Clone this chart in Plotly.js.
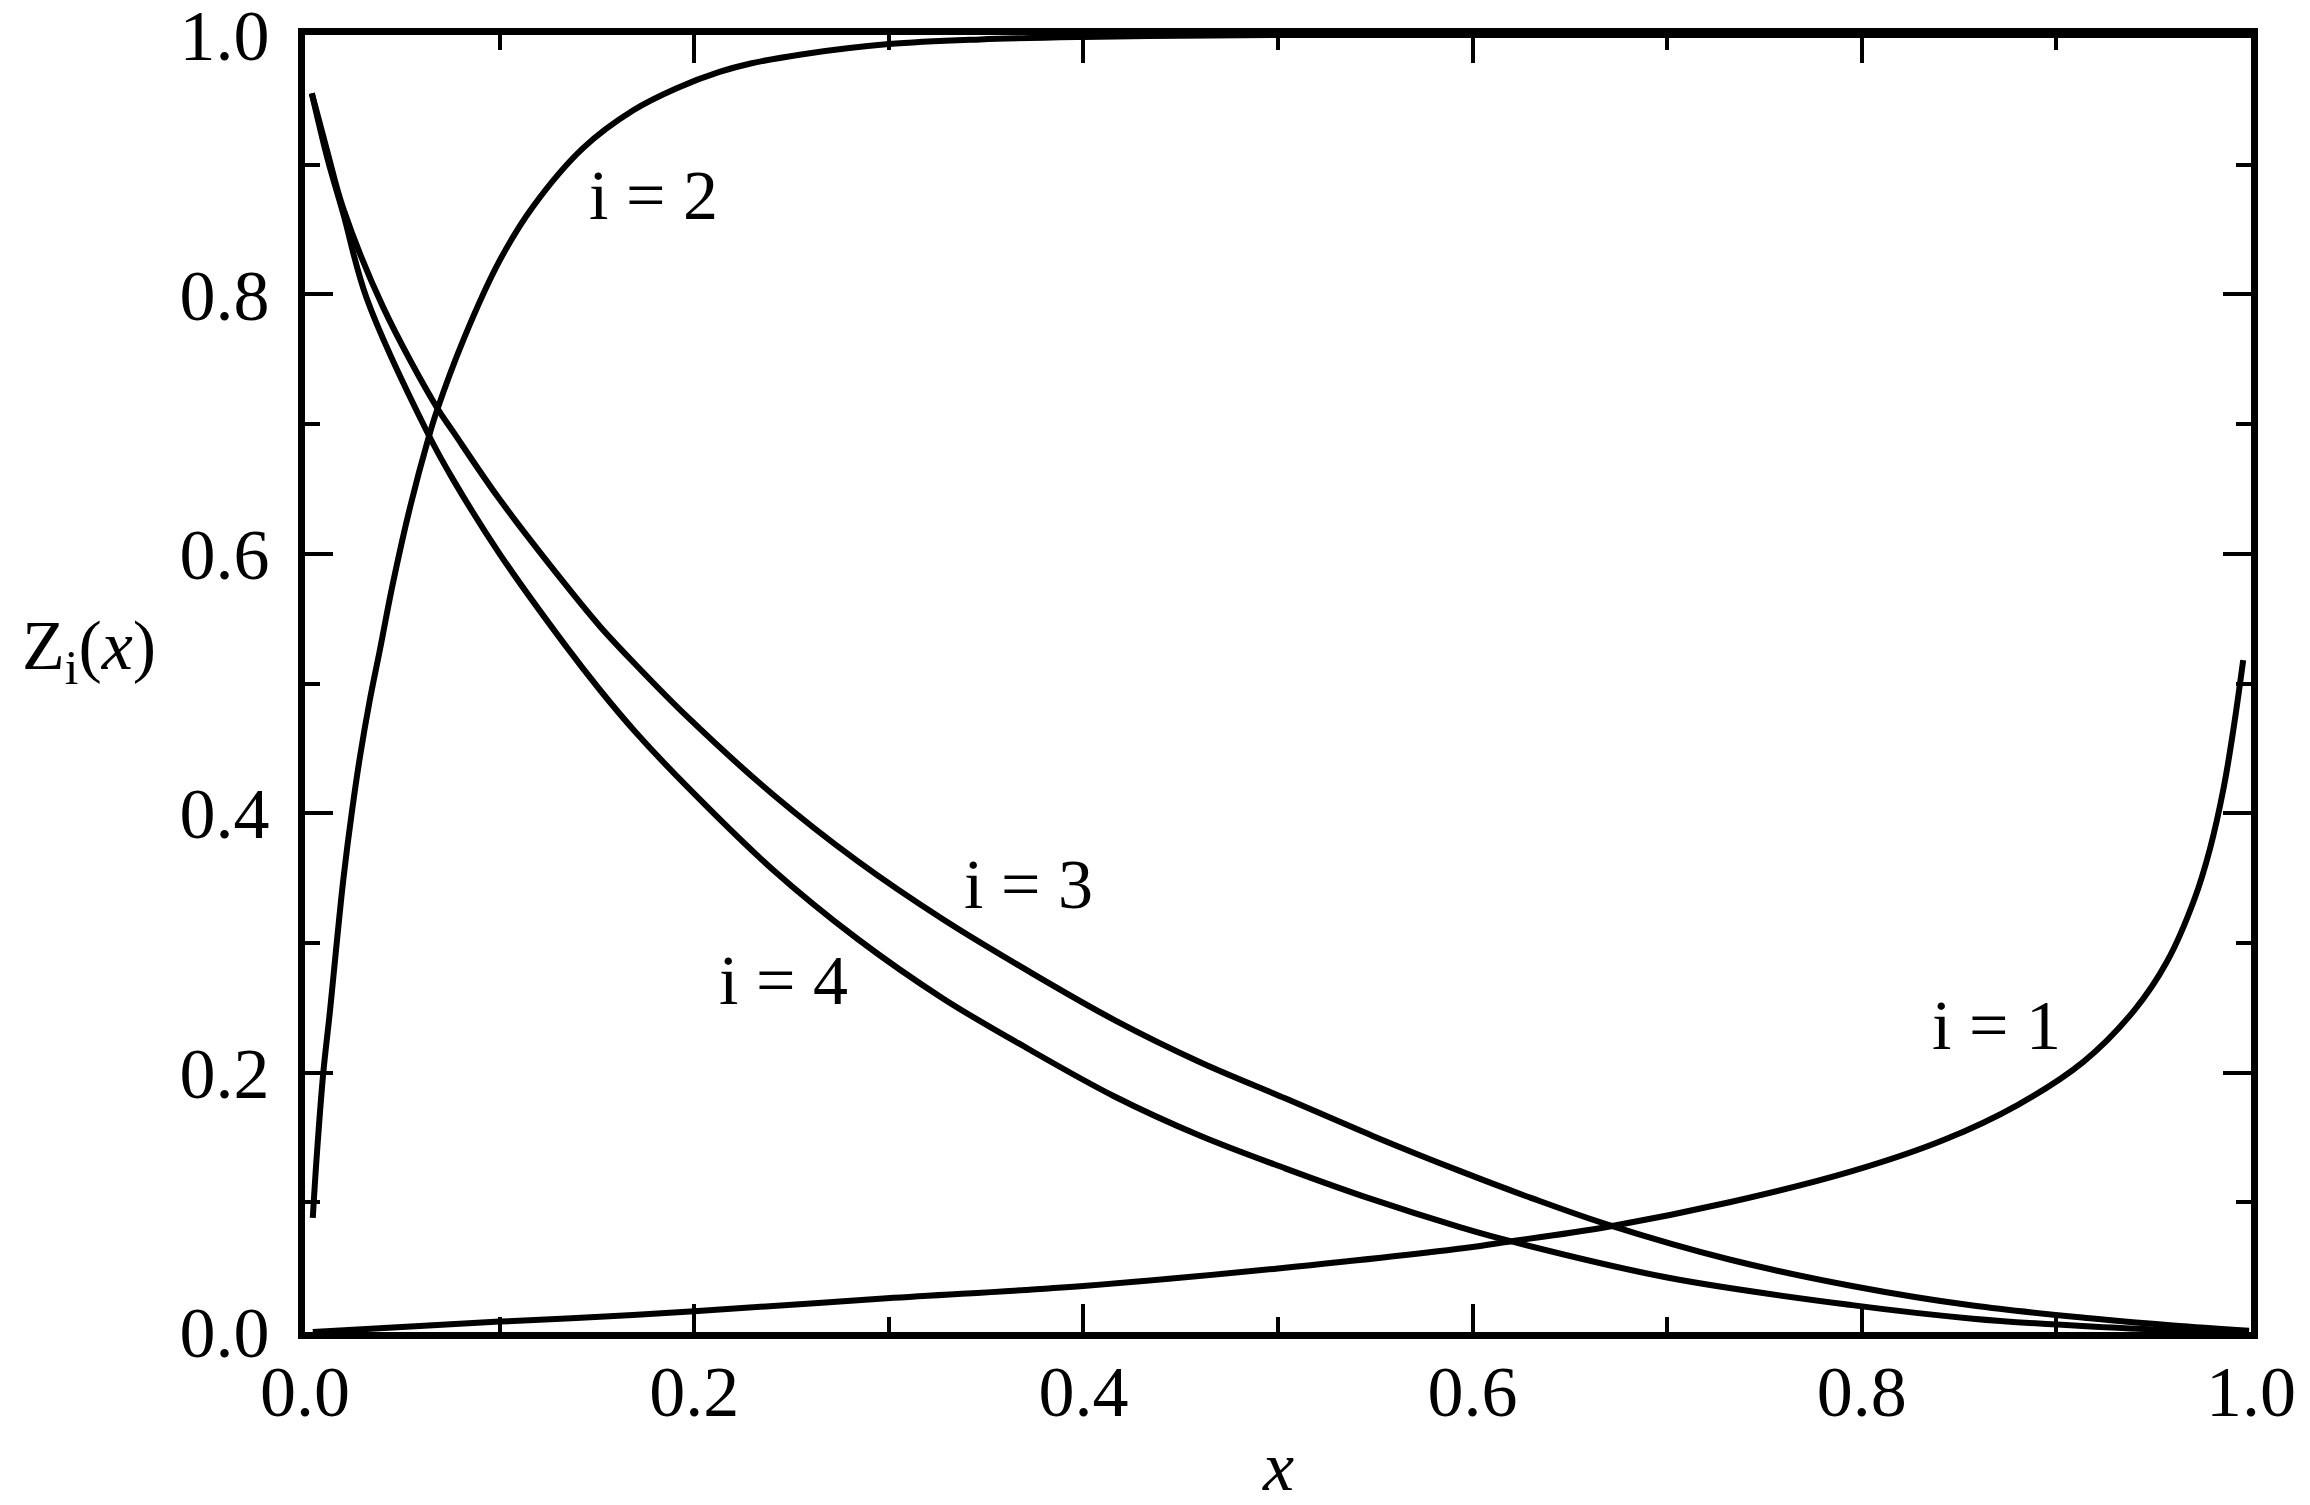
<!DOCTYPE html>
<html>
<head>
<meta charset="utf-8">
<script src="https://cdn.plot.ly/plotly-3.0.1.min.js"></script>
<style>
  html, body { margin: 0; padding: 0; background: #fff; }
  #chart1 { width: 2310px; height: 1505px; }
</style>
</head>
<body>
<div id="chart1"></div>
<script>
// values
const x1 = [0.004, 0.1, 0.1516, 0.2, 0.299, 0.4, 0.5, 0.6, 0.613, 0.669, 0.732, 0.795, 0.842, 0.880, 0.914, 0.940, 0.957, 0.971, 0.979, 0.986, 0.991, 0.996]
const z1 = [0.0, 0.008, 0.0117, 0.016, 0.026, 0.0355, 0.049, 0.0655, 0.0685, 0.081, 0.100, 0.124, 0.148, 0.175, 0.2085, 0.248, 0.286, 0.334, 0.373, 0.420, 0.465, 0.518]

const x2 = [0.004, 0.006, 0.0094, 0.0128, 0.0163, 0.0197, 0.024, 0.0283, 0.0334, 0.0385, 0.045, 0.054, 0.0634, 0.0677, 0.0814, 0.100, 0.1173, 0.143, 0.1687, 0.191, 0.213, 0.229, 0.255, 0.300, 0.347, 0.40, 0.45, 0.5, 0.6, 0.7, 0.8, 0.9, 1.0]
const z2 = [0.088, 0.135, 0.200, 0.247, 0.300, 0.349, 0.400, 0.444, 0.488, 0.526, 0.576, 0.636, 0.689, 0.710, 0.765, 0.826, 0.868, 0.913, 0.942, 0.959, 0.9715, 0.978, 0.985, 0.993, 0.9966, 0.9985, 0.9994, 1.0, 1.0, 1.0, 1.0, 1.0, 1.0]

const x3 = [0.0035, 0.0115, 0.0197, 0.0402, 0.0677, 0.0762, 0.100, 0.134, 0.1516, 0.169, 0.196, 0.240, 0.284, 0.328, 0.372, 0.416, 0.460, 0.504, 0.549, 0.593, 0.630, 0.669, 0.732, 0.795, 0.857, 0.920, 0.96, 0.999]
const z3 = [0.955, 0.910, 0.866, 0.790, 0.713, 0.694, 0.642, 0.576, 0.544, 0.516, 0.475, 0.415, 0.363, 0.318, 0.278, 0.2405, 0.208, 0.180, 0.151, 0.1244, 0.1034, 0.083, 0.0559, 0.0355, 0.0204, 0.0102, 0.005, 0.001]

const x4 = [0.0035, 0.0115, 0.0197, 0.0317, 0.0634, 0.0762, 0.100, 0.134, 0.1516, 0.169, 0.196, 0.240, 0.284, 0.328, 0.372, 0.416, 0.460, 0.504, 0.549, 0.593, 0.613, 0.700, 0.795, 0.857, 0.920, 0.96, 0.999]
const z4 = [0.955, 0.905, 0.862, 0.797, 0.692, 0.657, 0.600, 0.529, 0.495, 0.464, 0.421, 0.357, 0.303, 0.257, 0.218, 0.1816, 0.1513, 0.126, 0.102, 0.081, 0.0725, 0.042, 0.0207, 0.0103, 0.004, 0.0015, 0.0]

const curveLabels = ['i = 1', 'i = 2', 'i = 3', 'i = 4']
const labelX = [0.869, 0.179, 0.372, 0.246]
const labelY = [0.236, 0.876, 0.345, 0.271]

const tickVals = [0, 0.2, 0.4, 0.6, 0.8, 1.0]

const FONT = 'Liberation Serif, Times New Roman, serif'

function curve(xs, ys, name) {
  return {
    x: xs,
    y: ys,
    type: 'scatter',
    mode: 'lines',
    name: name,
    line: { color: 'black', width: 6, shape: 'spline', smoothing: 1 },
    showlegend: false
  }
}

function axis() {
  return {
    range: [0, 1],
    tickvals: tickVals,
    tickformat: '.1f',
    ticks: 'inside',
    ticklen: 28,
    tickwidth: 4,
    tickcolor: 'black',
    minor: { dtick: 0.1, ticks: 'inside', ticklen: 15, tickwidth: 4, tickcolor: 'black' },
    showline: true,
    linewidth: 7,
    linecolor: 'black',
    mirror: 'ticks',
    showgrid: false,
    zeroline: false,
    ticklabeloverflow: 'allow',
    tickfont: { family: FONT, size: 72, color: 'black' }
  }
}

const xaxis = axis()
xaxis.ticklabelstandoff = -9
const yaxis = axis()
yaxis.ticklabelstandoff = 14

const annotations = curveLabels.map((t, i) => ({
  x: labelX[i], y: labelY[i], xref: 'x', yref: 'y',
  text: t, showarrow: false,
  font: { family: FONT, size: 70, color: 'black' }
}))
annotations.push({
  x: -0.1465, y: 0.525, xref: 'paper', yref: 'paper',
  xanchor: 'left', yanchor: 'middle',
  text: 'Z<sub>i</sub>(<i>x</i>)', showarrow: false,
  font: { family: FONT, size: 70, color: 'black' }
})
annotations.push({
  x: 0.5, y: -0.1035, xref: 'paper', yref: 'paper',
  xanchor: 'center', yanchor: 'middle', height: 66,
  text: '<i>x</i>', showarrow: false,
  font: { family: FONT, size: 70, color: 'black' }
})

const layout = {
  width: 2310,
  height: 1505,
  margin: { l: 305, r: 59, t: 35, b: 173 },
  paper_bgcolor: 'white',
  plot_bgcolor: 'white',
  xaxis: xaxis,
  yaxis: yaxis,
  annotations: annotations,
  showlegend: false
}

Plotly.newPlot('chart1', [
  curve(x1, z1, 'i = 1'),
  curve(x2, z2, 'i = 2'),
  curve(x3, z3, 'i = 3'),
  curve(x4, z4, 'i = 4')
], layout, { staticPlot: true })
</script>
</body>
</html>
